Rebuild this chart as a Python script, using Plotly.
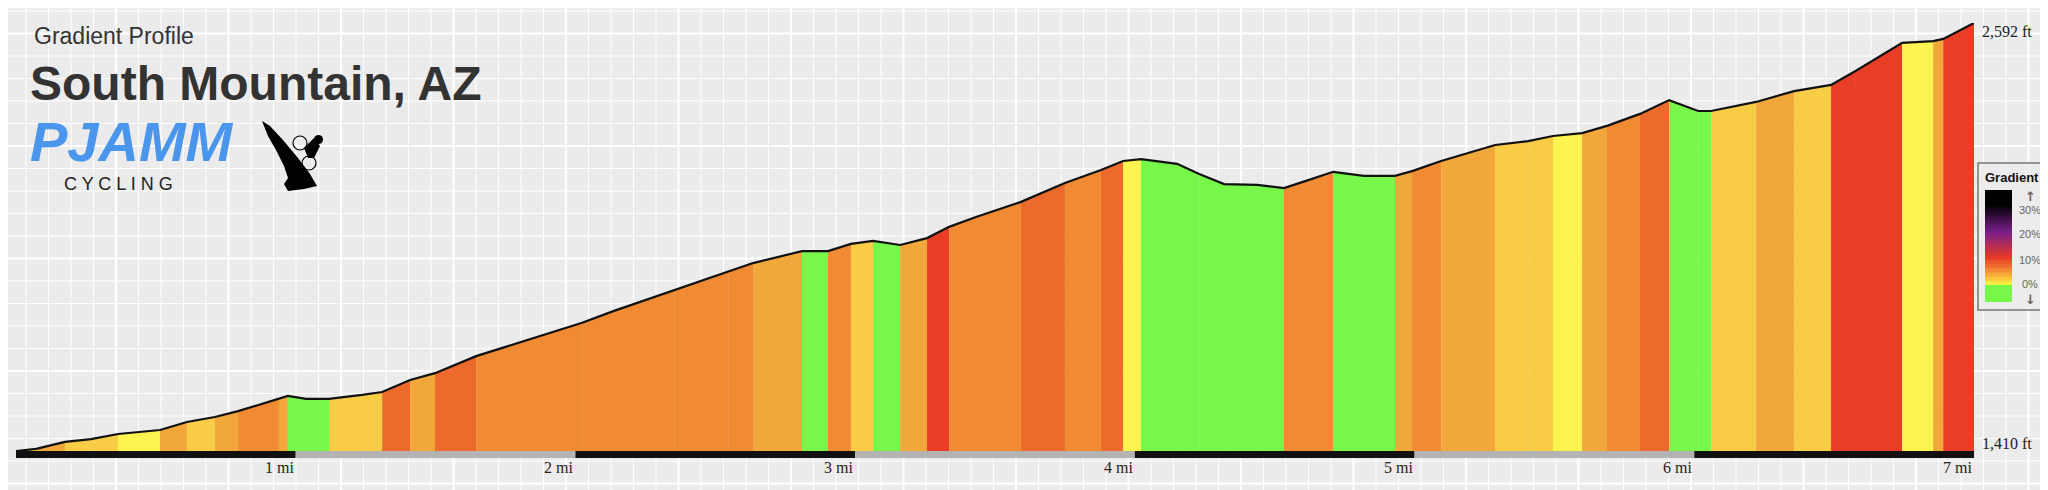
import plotly.graph_objects as go

W, H = 2048, 490

# profile samples
distance_mi = [0.000, 0.072, 0.175, 0.268, 0.365, 0.515, 0.611, 0.711, 0.794, 0.940,
               0.972, 1.037, 1.119, 1.237, 1.309, 1.409, 1.498, 1.645, 1.827, 2.024,
               2.138, 2.353, 2.546, 2.635, 2.810, 2.903, 2.985, 3.064, 3.161, 3.257,
               3.336, 3.432, 3.593, 3.750, 3.879, 3.958, 4.022, 4.151, 4.230, 4.319,
               4.437, 4.533, 4.612, 4.709, 4.819, 4.930, 4.991, 5.095, 5.288, 5.406,
               5.495, 5.599, 5.688, 5.806, 5.910, 6.014, 6.060, 6.221, 6.357, 6.489,
               6.578, 6.743, 6.854, 6.890, 7.000]
elevation_ft = [1410, 1416, 1435, 1443, 1457, 1468, 1490, 1504, 1520, 1556,
                1562, 1554, 1554, 1565, 1573, 1606, 1625, 1672, 1717, 1764,
                1797, 1855, 1907, 1929, 1962, 1962, 1982, 1990, 1979, 1998,
                2029, 2056, 2098, 2150, 2186, 2211, 2216, 2203, 2175, 2147,
                2145, 2136, 2156, 2181, 2170, 2170, 2183, 2211, 2255, 2266,
                2280, 2288, 2308, 2341, 2379, 2349, 2349, 2374, 2404, 2421,
                2460, 2537, 2542, 2548, 2592]

mile_ticks = [1, 2, 3, 4, 5, 6, 7]
y_min, y_max = 1410, 2592

legend_stops = [0, 10, 20, 30]


def px(x):
    return x / W


def py(y):
    return 1 - y / H


def grade_color(g):
    if g <= 0.3:
        return "#76f74a"
    if g < 1.5:
        return "#fff44f"
    if g < 3:
        return "#f8cc45"
    if g < 4.5:
        return "#f2a73b"
    if g < 5.5:
        return "#f08a33"
    if g < 7:
        return "#ec6a2c"
    if g < 9:
        return "#e83e26"
    return "#b02a3a"


fig = go.Figure()

for i in range(len(distance_mi) - 1):
    d0, d1 = distance_mi[i], distance_mi[i + 1]
    e0, e1 = elevation_ft[i], elevation_ft[i + 1]
    g = (e1 - e0) / ((d1 - d0) * 5280) * 100
    c = grade_color(g)
    fig.add_trace(go.Scatter(x=[d0, d1], y=[e0, e1], mode="lines", fill="tozeroy",
                             fillcolor=c, line=dict(width=0.5, color=c),
                             hoverinfo="skip", showlegend=False))

fig.add_trace(go.Scatter(x=distance_mi, y=elevation_ft, mode="lines",
                         line=dict(color="#111", width=2.2), hoverinfo="skip",
                         showlegend=False))

# gradient legend bar
legend_z = [[v] for v in range(0, 36)]
fig.add_trace(go.Heatmap(
    z=legend_z, x=[0], y=list(range(0, 36)), xaxis="x2", yaxis="y2",
    colorscale=[[0, "#ffef45"], [0.1, "#f8a53a"], [0.28, "#e83a25"],
                [0.56, "#7a1f8c"], [0.85, "#000000"], [1, "#000000"]],
    showscale=False, hoverinfo="skip"))

shapes = []
# background grid
for i in range(0, 92):
    x = 18 + 22.5 * i
    major = (i - 4) % 5 == 0
    shapes.append(dict(type="line", xref="paper", yref="paper", x0=px(x), x1=px(x),
                       y0=0, y1=1, layer="below",
                       line=dict(color="#ffffff", width=2 if major else 1)))
for i in range(0, 22):
    y = 3 + 22.5 * i
    major = (i - 16) % 5 == 0
    shapes.append(dict(type="line", xref="paper", yref="paper", x0=0, x1=1,
                       y0=py(y), y1=py(y), layer="below",
                       line=dict(color="#ffffff", width=2 if major else 1)))

# distance bar under the profile
for m in range(7):
    shapes.append(dict(type="rect", xref="x", yref="paper", x0=m, x1=m + 1,
                       y0=py(450), y1=py(443), line_width=0,
                       fillcolor="#111111" if m % 2 == 0 else "#b3b3b3"))

# legend box
shapes.append(dict(type="rect", xref="paper", yref="paper", x0=px(1970), x1=px(2039),
                   y0=py(302), y1=py(155), fillcolor="#ececec", layer="below",
                   line=dict(color="#777", width=1.5)))
shapes.append(dict(type="rect", xref="paper", yref="paper", x0=px(1977), x1=px(2004),
                   y0=py(294), y1=py(277), fillcolor="#76f74a", line_width=0))

# rider silhouette (rough)
pts = [(254, 113), (262, 118), (275, 132), (290, 150), (302, 166), (309, 178),
       (296, 181), (280, 183), (276, 176), (280, 170), (276, 158), (268, 142), (260, 128)]
path = "M " + " L ".join(f"{px(a)} {py(b)}" for a, b in pts) + " Z"
shapes.append(dict(type="path", xref="paper", yref="paper", fillcolor="#000", line_width=0,
                   path=path))
for cx, cy in [(292, 135), (301, 155)]:
    shapes.append(dict(type="circle", xref="paper", yref="paper",
                       x0=px(cx - 7), x1=px(cx + 7), y0=py(cy + 7), y1=py(cy - 7),
                       line=dict(color="#000", width=1.2)))
shapes.append(dict(type="circle", xref="paper", yref="paper",
                   x0=px(306), x1=px(315), y0=py(136), y1=py(127), fillcolor="#000", line_width=0))
shapes.append(dict(type="path", xref="paper", yref="paper", fillcolor="#000", line_width=0,
                   path=f"M {px(296)} {py(140)} L {px(306)} {py(130)} L {px(312)} {py(138)} "
                        f"L {px(306)} {py(150)} L {px(300)} {py(150)} Z"))

annotations = [
    dict(text="Gradient Profile", x=px(24), y=py(28), xanchor="left", yanchor="middle",
         font=dict(family="Liberation Sans, Arial", size=23, color="#333")),
    dict(text="<b>South Mountain, AZ</b>", x=px(20), y=py(76), xanchor="left", yanchor="middle",
         font=dict(family="Liberation Sans, Arial", size=48, color="#333")),
    dict(text="<b><i>PJAMM</i></b>", x=px(20), y=py(134), xanchor="left", yanchor="middle",
         font=dict(family="Liberation Sans, Arial", size=56, color="#4a96ec")),
    dict(text="C Y C L I N G", x=px(54), y=py(176), xanchor="left", yanchor="middle",
         font=dict(family="Liberation Sans, Arial", size=18, color="#222")),
    dict(text="<b>Gradient</b>", x=px(2004), y=py(169), xanchor="center", yanchor="middle",
         font=dict(family="Liberation Sans, Arial", size=13, color="#111")),
    dict(text="2,592 ft", x=px(1972), y=py(23), xanchor="left", yanchor="middle",
         font=dict(family="Liberation Serif, Times New Roman", size=16, color="#222")),
    dict(text="1,410 ft", x=px(1972), y=py(435), xanchor="left", yanchor="middle",
         font=dict(family="Liberation Serif, Times New Roman", size=16, color="#222")),
    dict(text="<b>\u2191</b>", x=px(2022), y=py(189), xanchor="center", yanchor="middle",
         font=dict(family="DejaVu Sans", size=13, color="#666")),
    dict(text="<b>\u2193</b>", x=px(2022), y=py(291), xanchor="center", yanchor="middle",
         font=dict(family="DejaVu Sans", size=13, color="#666")),
]
for s, ypos in zip(legend_stops, [276, 252, 226, 202]):
    annotations.append(dict(text=f"{s}%", x=px(2022), y=py(ypos), xanchor="center",
                            yanchor="middle",
                            font=dict(family="Liberation Sans, Arial", size=11, color="#666")))
for m in mile_ticks:
    annotations.append(dict(text=f"{m} mi", x=m, xref="x", y=py(459), yref="paper",
                            xanchor="right", yanchor="middle",
                            font=dict(family="Liberation Serif, Times New Roman", size=16,
                                      color="#222")))
for a in annotations:
    a.setdefault("xref", "paper")
    a.setdefault("yref", "paper")
    a["showarrow"] = False

fig.update_layout(
    width=W, height=H,
    margin=dict(l=0, r=0, t=0, b=0),
    paper_bgcolor="#ebebeb",
    plot_bgcolor="rgba(0,0,0,0)",
    xaxis=dict(domain=[px(8), px(1966)], range=[0, 7], visible=False, fixedrange=True),
    yaxis=dict(domain=[py(443), py(15)], range=[y_min, y_max], visible=False, fixedrange=True),
    xaxis2=dict(domain=[px(1977), px(2004)], range=[-0.5, 0.5], visible=False, anchor="y2"),
    yaxis2=dict(domain=[py(277), py(182)], range=[-0.5, 35.5], visible=False, anchor="x2"),
    shapes=shapes,
    annotations=annotations,
)

fig.write_html("out.html")
